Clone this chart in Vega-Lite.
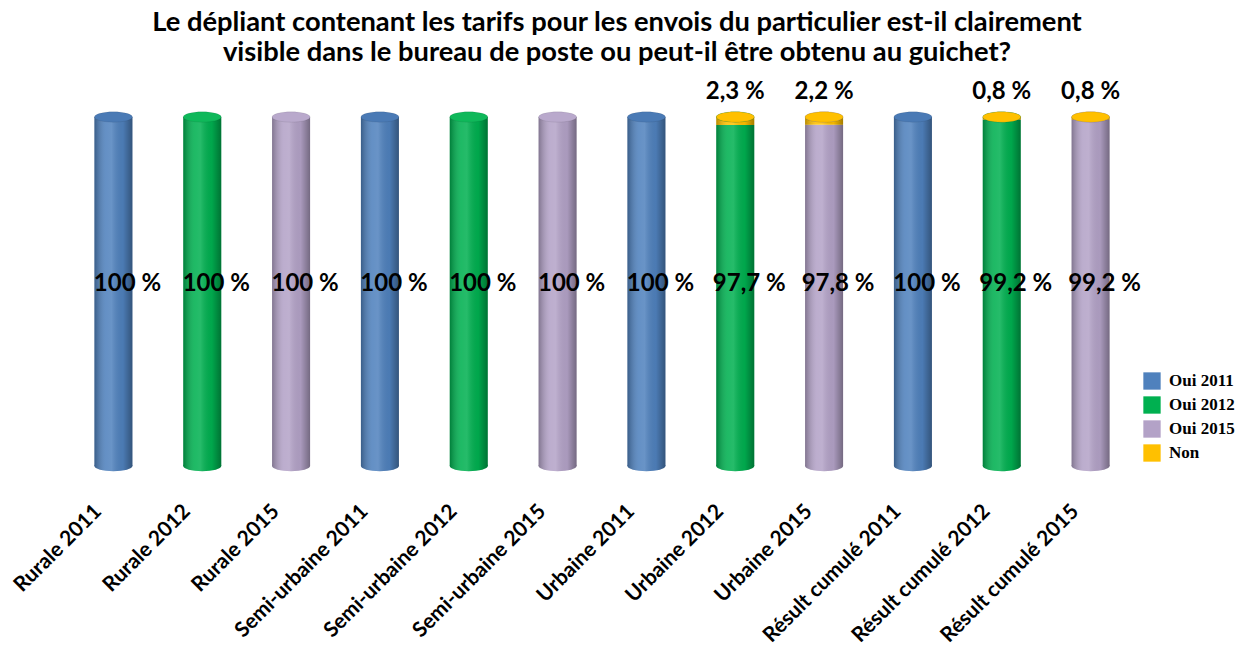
{
  "$schema": "https://vega.github.io/schema/vega-lite/v6.json",
  "autosize": {"type": "none"},
  "width": 1066,
  "height": 349,
  "padding": {"left": 69, "top": 117, "right": 121, "bottom": 183},
  "background": "white",
  "config": {
    "view": {"stroke": null},
    "font": "Lato",
    "legend": {
      "orient": "none", "legendX": 1074, "legendY": 255,
      "symbolType": "square", "symbolSize": 300, "symbolStrokeWidth": 0, "symbolOpacity": 1,
      "labelFont": "Liberation Serif", "labelFontSize": 17, "labelFontWeight": "bold", "labelColor": "black",
      "rowPadding": 6, "labelOffset": 8
    }
  },
  "title": {
    "text": ["Le dépliant contenant les tarifs pour les envois du particulier est-il clairement", "visible dans le bureau de poste ou peut-il être obtenu au guichet?"],
    "font": "Lato", "fontSize": 27.3, "fontWeight": "bold", "color": "black",
    "lineHeight": 30, "anchor": "middle", "dx": 15, "dy": 68, "offset": 54, "baseline": "bottom"
  },
  "data": {"values": [
    {"cat": "Rurale 2011", "series": "Oui 2011", "value": 100},
    {"cat": "Rurale 2012", "series": "Oui 2012", "value": 100},
    {"cat": "Rurale 2015", "series": "Oui 2015", "value": 100},
    {"cat": "Semi-urbaine 2011", "series": "Oui 2011", "value": 100},
    {"cat": "Semi-urbaine 2012", "series": "Oui 2012", "value": 100},
    {"cat": "Semi-urbaine 2015", "series": "Oui 2015", "value": 100},
    {"cat": "Urbaine 2011", "series": "Oui 2011", "value": 100},
    {"cat": "Urbaine 2012", "series": "Oui 2012", "value": 97.7},
    {"cat": "Urbaine 2015", "series": "Oui 2015", "value": 97.8},
    {"cat": "Résult cumulé 2011", "series": "Oui 2011", "value": 100},
    {"cat": "Résult cumulé 2012", "series": "Oui 2012", "value": 99.2},
    {"cat": "Résult cumulé 2015", "series": "Oui 2015", "value": 99.2},
    {"cat": "Urbaine 2012", "series": "Non", "value": 2.3},
    {"cat": "Urbaine 2015", "series": "Non", "value": 2.2},
    {"cat": "Résult cumulé 2012", "series": "Non", "value": 0.8},
    {"cat": "Résult cumulé 2015", "series": "Non", "value": 0.8}
  ]},
  "transform": [
    {"calculate": "replace(format(datum.value, '.1~f'), '.', ',') + ' %'", "as": "label"}
  ],
  "encoding": {
    "x": {
      "field": "cat", "type": "nominal",
      "scale": {"domain": ["Rurale 2011", "Rurale 2012", "Rurale 2015", "Semi-urbaine 2011", "Semi-urbaine 2012", "Semi-urbaine 2015", "Urbaine 2011", "Urbaine 2012", "Urbaine 2015", "Résult cumulé 2011", "Résult cumulé 2012", "Résult cumulé 2015"], "paddingInner": 0, "paddingOuter": 0},
      "axis": {"title": null, "labelAngle": -45, "labelAlign": "right", "labelBaseline": "middle", "labelFont": "Lato", "labelFontSize": 21, "labelFontWeight": "bold", "labelColor": "black", "labelLimit": 400, "ticks": false, "domain": false, "labelPadding": 42, "labelOffset": -15}
    }
  },
  "layer": [
    {
      "transform": [{"filter": "datum.series != 'Non'"}],
      "mark": {"type": "point", "shape": "M -1 0 A 1 0.27 0 1 0 1 0 A 1 0.27 0 1 0 -1 0 Z", "size": 1444, "filled": true, "opacity": 1, "strokeWidth": 0},
      "encoding": {
        "y": {"datum": 0, "type": "quantitative", "axis": null},
        "color": {"field": "series", "type": "nominal"}
      }
    },
    {
      "transform": [{"filter": "datum.series != 'Non'"}],
      "mark": {"type": "point", "shape": "M -1 0 A 1 0.27 0 1 0 1 0 A 1 0.27 0 1 0 -1 0 Z", "size": 1444, "filled": true, "opacity": 1, "strokeWidth": 0,
        "fill": {"gradient": "linear", "x1": 0, "y1": 0, "x2": 1, "y2": 0, "stops": [{"offset": 0, "color": "rgba(0,0,0,0.28)"}, {"offset": 0.3, "color": "rgba(255,255,255,0.12)"}, {"offset": 0.45, "color": "rgba(255,255,255,0.15)"}, {"offset": 0.75, "color": "rgba(0,0,0,0.05)"}, {"offset": 1, "color": "rgba(0,0,0,0.35)"}]}},
      "encoding": {
        "y": {"datum": 0, "type": "quantitative", "axis": null}
      }
    },
    {
      "mark": {"type": "bar", "size": 38},
      "encoding": {
        "y": {"field": "value", "type": "quantitative", "stack": "zero", "scale": {"domain": [0, 100], "nice": false}, "axis": null},
        "color": {
          "field": "series", "type": "nominal",
          "scale": {"domain": ["Oui 2011", "Oui 2012", "Oui 2015", "Non"], "range": ["#4F81BD", "#00B050", "#B3A2C7", "#FFC000"]},
          "legend": {"title": null}
        },
        "order": {"field": "series", "sort": "descending"}
      }
    },
    {
      "mark": {"type": "bar", "size": 38,
        "fill": {"gradient": "linear", "x1": 0, "y1": 0, "x2": 1, "y2": 0, "stops": [{"offset": 0, "color": "rgba(0,0,0,0.28)"}, {"offset": 0.3, "color": "rgba(255,255,255,0.12)"}, {"offset": 0.45, "color": "rgba(255,255,255,0.15)"}, {"offset": 0.75, "color": "rgba(0,0,0,0.05)"}, {"offset": 1, "color": "rgba(0,0,0,0.35)"}]}},
      "encoding": {
        "y": {"field": "value", "type": "quantitative", "stack": "zero", "axis": null},
        "detail": {"field": "series"},
        "order": {"field": "series", "sort": "descending"}
      }
    },
    {
      "mark": {"type": "point", "shape": "M -1 0 A 1 0.27 0 1 0 1 0 A 1 0.27 0 1 0 -1 0 Z", "size": 1444, "filled": true, "opacity": 1, "stroke": "rgba(0,0,0,0.15)", "strokeWidth": 0.5},
      "encoding": {
        "y": {"datum": 100, "type": "quantitative", "axis": null},
        "fill": {
          "field": "series", "type": "nominal",
          "scale": {"domain": ["Oui 2011", "Oui 2012", "Oui 2015", "Non"], "range": ["#4A7AB5", "#0FB85A", "#B9A9CC", "#FFC000"]},
          "legend": null
        }
      }
    },
    {
      "transform": [{"filter": "datum.series != 'Non'"}],
      "mark": {"type": "text", "font": "Lato", "fontSize": 24, "fontWeight": "bold", "color": "black", "dx": 14, "dy": -8, "baseline": "middle"},
      "encoding": {
        "y": {"datum": 50, "type": "quantitative", "axis": null},
        "text": {"field": "label"}
      }
    },
    {
      "transform": [{"filter": "datum.series == 'Non'"}],
      "mark": {"type": "text", "font": "Lato", "fontSize": 24, "fontWeight": "bold", "color": "black", "dy": -25, "baseline": "middle"},
      "encoding": {
        "y": {"datum": 100, "type": "quantitative", "axis": null},
        "text": {"field": "label"}
      }
    }
  ]
}
